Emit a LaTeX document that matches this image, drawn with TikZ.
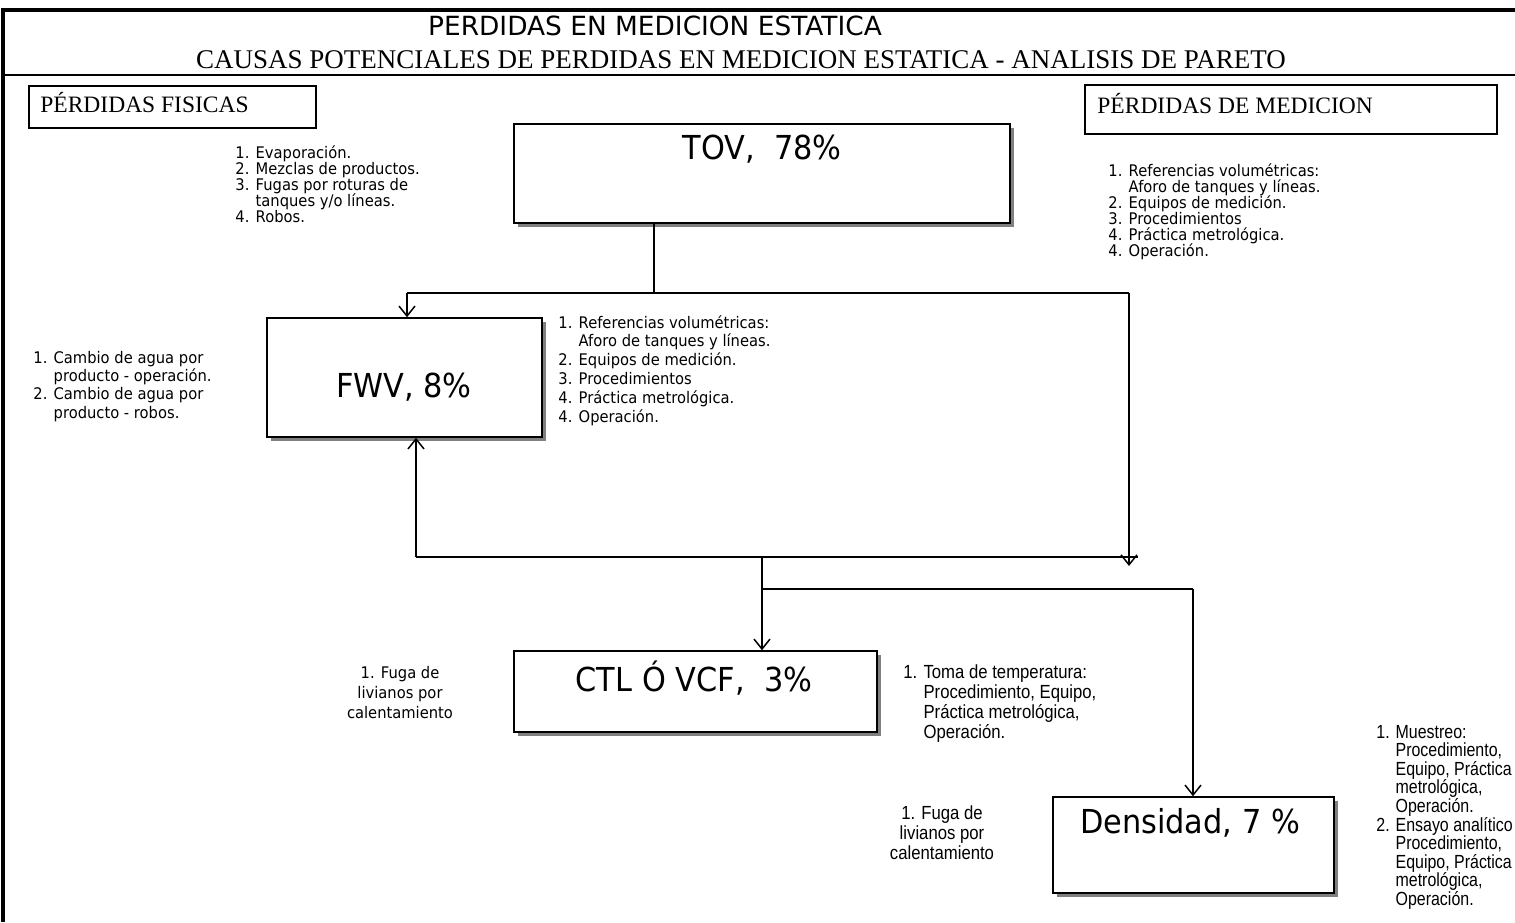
\documentclass[tikz,border=0pt]{standalone}
\usepackage{fontspec}
\setmainfont{Liberation Serif}
\newfontfamily\tah[FakeStretch=0.92]{DejaVu Sans}
\newfontfamily\tahw{DejaVu Sans}
\newfontfamily\nar[FakeStretch=0.88]{Liberation Sans}
\newfontfamily\narr[FakeStretch=0.84]{Liberation Sans}
\usetikzlibrary{arrows.meta,shadows}
\newcommand\txtblock[2]{\vtop{\baselineskip=#1\relax\lineskiplimit=-100pt\relax\lineskip=0pt\relax #2}}
\newcommand\tline[1]{\hbox{#1}}
\newcommand\indline[1]{\hbox{\phantom{1. }#1}}
\newcommand\cenline[1]{\hbox to 0pt{\hss#1\hss}}
\tikzset{
  line/.style={draw=black,line width=0.75pt},
  arr/.style={draw=black,line width=0.75pt,-{Straight Barb[length=5pt,width=8pt,line width=0.75pt]}},
  box/.style={draw=black,line width=0.75pt,fill=white,inner sep=0pt,
    drop shadow={shadow xshift=2pt,shadow yshift=-2pt,fill=black!50,opacity=1}},
  plainbox/.style={draw=black,line width=0.75pt,inner sep=0pt},
  bigtxt/.style={font={\tah\fontsize{16.5pt}{18pt}\selectfont},inner sep=0pt,anchor=base},
  small/.style={font={\tah\fontsize{8pt}{9pt}\selectfont},inner sep=0pt,anchor=base west},
  narrow/.style={font={\nar\fontsize{9.5pt}{10pt}\selectfont},inner sep=0pt},
  serifl/.style={font={\fontsize{11.75pt}{13pt}\selectfont},inner sep=0pt,anchor=base west}
}
\begin{document}
\begin{tikzpicture}[x=0.5pt,y=-0.5pt]
\useasboundingbox (0,0) rectangle (1515,922);
% frame
\draw[line width=1.75pt] (3,922) -- (3,10) -- (1515,10);
\draw[line width=0.75pt] (3,75) -- (1515,75);
% titles
\node[font={\tahw\fontsize{13.2pt}{15pt}\selectfont},inner sep=0pt,anchor=base] (title) at (655,35) {PERDIDAS EN MEDICION ESTATICA};
\node[font={\fontsize{13.5pt}{15pt}\selectfont},inner sep=0pt,anchor=base] (subtitle) at (741,68) {CAUSAS POTENCIALES DE PERDIDAS EN MEDICION ESTATICA - ANALISIS DE PARETO};
% header boxes
\node[plainbox,minimum width=143.5pt,minimum height=21pt] (fis) at (172.5,107) {};
\node[serifl] (fistxt) at (40,112) {PÉRDIDAS FISICAS};
\node[plainbox,minimum width=206pt,minimum height=24.5pt] (med) at (1291,109.5) {};
\node[serifl] (medtxt) at (1097,113) {PÉRDIDAS DE MEDICION};
% main boxes
\node[box,minimum width=248pt,minimum height=49.5pt] (tov) at (762,173.5) {};
\node[bigtxt] (tovtxt) at (762,159) {TOV,~~78\%};
\node[box,minimum width=137.5pt,minimum height=59.5pt] (fwv) at (404.5,377.5) {};
\node[bigtxt] (fwvtxt) at (404,397) {FWV, 8\%};
\node[box,minimum width=181.5pt,minimum height=40.5pt] (ctl) at (695.5,691.5) {};
\node[bigtxt] (ctltxt) at (694,691) {CTL Ó VCF,~~3\%};
\node[box,minimum width=140.5pt,minimum height=48pt] (dens) at (1193.5,845) {};
\node[bigtxt] (denstxt) at (1190,833) {Densidad, 7 \%};
% connectors
\coordinate (j1) at (654,293);
\coordinate (jl) at (407,293);
\coordinate (jr) at (1129,293);
\coordinate (jrb) at (1129,566);
\coordinate (b1) at (416,557);
\coordinate (b2) at (1138,557);
\coordinate (c1) at (762,557);
\coordinate (d1) at (762,589);
\coordinate (d2) at (1193,589);
\draw[line] (j1 |- tov.south) -- (j1);
\draw[line] (jl) -- (jr);
\draw[arr] (jl) -- (jl |- fwv.north);
\draw[arr] (jr) -- (jrb);
\draw[line] (b1) -- (b2);
\draw[arr] (b1) -- (b1 |- fwv.south);
\draw[arr] (c1) -- (c1 |- ctl.north);
\draw[line] (d1) -- (d2);
\draw[arr] (d2) -- (d2 |- dens.north);
% text lists
\node[small] (evap) at (235,158) {\txtblock{8.1pt}{%
  \tline{1. Evaporación.}%
  \tline{2. Mezclas de productos.}%
  \tline{3. Fugas por roturas de}%
  \indline{tanques y/o líneas.}%
  \tline{4. Robos.}}};
\node[small] (cambio) at (33,363) {\txtblock{9.2pt}{%
  \tline{1. Cambio de agua por}%
  \indline{producto - operación.}%
  \tline{2. Cambio de agua por}%
  \indline{producto - robos.}}};
\node[small] (fwvlist) at (558,328) {\txtblock{9.4pt}{%
  \tline{1. Referencias volumétricas:}%
  \indline{Aforo de tanques y líneas.}%
  \tline{2. Equipos de medición.}%
  \tline{3. Procedimientos}%
  \tline{4. Práctica metrológica.}%
  \tline{4. Operación.}}};
\node[small] (medlist) at (1108,176) {\txtblock{8pt}{%
  \tline{1. Referencias volumétricas:}%
  \indline{Aforo de tanques y líneas.}%
  \tline{2. Equipos de medición.}%
  \tline{3. Procedimientos}%
  \tline{4. Práctica metrológica.}%
  \tline{4. Operación.}}};
\node[small,anchor=base] (fuga1) at (400,678) {\txtblock{10pt}{%
  \cenline{1. Fuga de}%
  \cenline{livianos por}%
  \cenline{calentamiento}}};
\node[narrow,anchor=base west] (toma) at (903,678) {\txtblock{10pt}{%
  \tline{1. Toma de temperatura:}%
  \indline{Procedimiento, Equipo,}%
  \indline{Práctica metrológica,}%
  \indline{Operación.}}};
\node[narrow,anchor=base] (fuga2) at (942,819) {\txtblock{10.2pt}{%
  \cenline{1. Fuga de}%
  \cenline{livianos por}%
  \cenline{calentamiento}}};
\node[font={\narr\fontsize{9.5pt}{10pt}\selectfont},inner sep=0pt,anchor=base west] (muestreo) at (1376,738) {\txtblock{9.3pt}{%
  \tline{1. Muestreo:}%
  \indline{Procedimiento,}%
  \indline{Equipo, Práctica}%
  \indline{metrológica,}%
  \indline{Operación.}%
  \tline{2. Ensayo analítico}%
  \indline{Procedimiento,}%
  \indline{Equipo, Práctica}%
  \indline{metrológica,}%
  \indline{Operación.}}};
\end{tikzpicture}
\end{document}
